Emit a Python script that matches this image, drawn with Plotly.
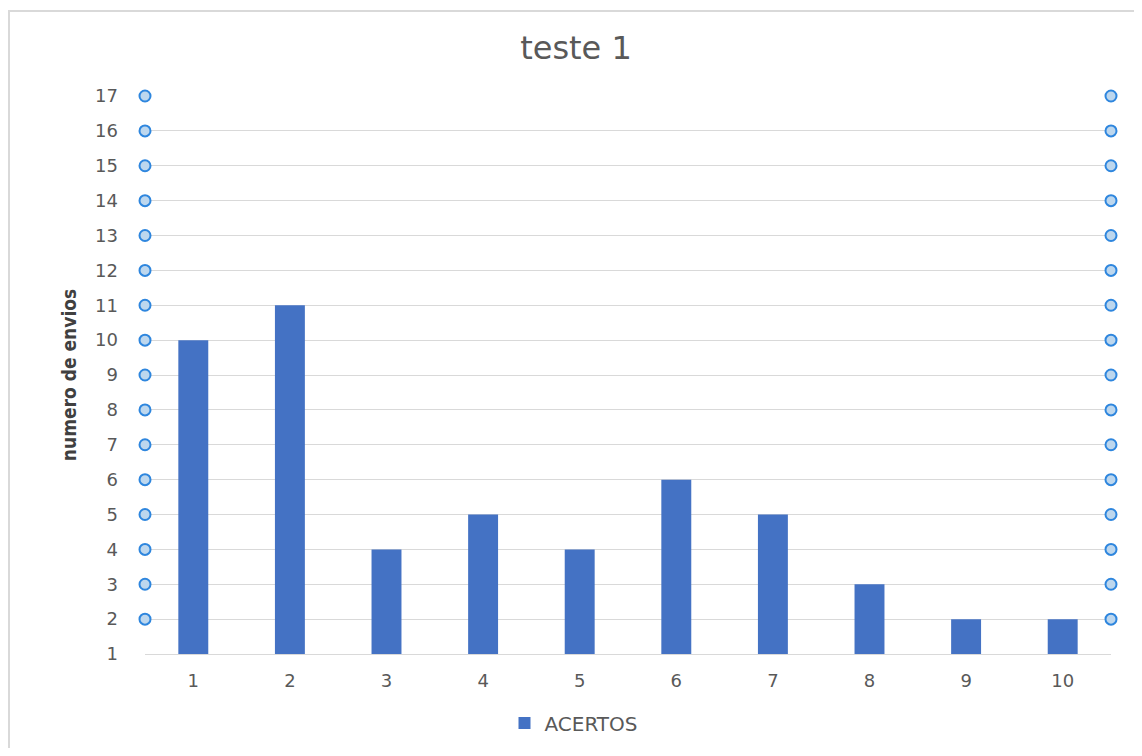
import plotly.graph_objects as go

categories = ["1", "2", "3", "4", "5", "6", "7", "8", "9", "10"]
acertos = [10, 11, 4, 5, 4, 6, 5, 3, 2, 2]
marker_levels = [2, 3, 4, 5, 6, 7, 8, 9, 10, 11, 12, 13, 14, 15, 16, 17]
y_ticks = list(range(1, 18))

# page body has an 8px margin; figure is placed at (8, 8)
W, H = 1126, 740
L, T = 137, 88
PR, PB = 1103, 646  # plot right / bottom in figure coords
R, B = W - PR, H - PB
PW, PH = PR - L, PB - T

FONT = "DejaVu Sans, Open Sans, sans-serif"
GRAY = "#595959"

fig = go.Figure()
fig.add_trace(go.Bar(
    x=categories, y=[v - 1 for v in acertos], base=1, name="ACERTOS",
    marker=dict(color="#4472c4", line=dict(width=0)),
    width=0.31,
))
for edge in (0, 1):
    fig.add_trace(go.Scatter(
        x=[edge] * len(marker_levels), y=marker_levels, xaxis="x2", mode="markers",
        marker=dict(symbol="circle", size=11, color="#bdd7ee",
                    line=dict(color="#2e86de", width=2)),
        showlegend=False, cliponaxis=False, hoverinfo="y",
    ))

fig.update_layout(
    width=W, height=H,
    margin=dict(l=L, r=R, t=T, b=B, autoexpand=False),
    paper_bgcolor="white", plot_bgcolor="white",
    title=dict(text="teste 1", x=568 / W, xanchor="center", y=1 - 40 / H, yanchor="middle",
               font=dict(family=FONT, size=32, color=GRAY)),
    xaxis=dict(type="category", showgrid=False, showline=True, linecolor="#d9d9d9", linewidth=1,
               ticks="", tickfont=dict(family=FONT, size=18, color=GRAY),
               ticklabelstandoff=10, zeroline=False, automargin=False),
    xaxis2=dict(overlaying="x", range=[0, 1], visible=False, fixedrange=True),
    yaxis=dict(range=[1, 17], tickvals=y_ticks, showgrid=True, gridcolor="#d9d9d9", gridwidth=1,
               zeroline=False, showline=False, ticks="", automargin=False,
               tickfont=dict(family=FONT, size=18, color=GRAY),
               ticklabelstandoff=26,
               title=dict(text="numero de envios", standoff=13,
                          font=dict(family="DejaVu Sans Condensed, Liberation Sans Narrow, sans-serif",
                                    size=19, color="#404040", weight="bold"))),
    showlegend=True,
    legend=dict(orientation="h", xref="container", yref="container",
                x=566 / W, xanchor="center", y=1 - 715 / H, yanchor="middle",
                font=dict(family=FONT, size=20, color=GRAY), itemwidth=30),
    bargap=0.69,
    shapes=[dict(type="rect", xref="paper", yref="paper",
                 x0=(1 - L) / PW, x1=(W + 20 - L) / PW,
                 y0=-(H + 20 - PB) / PH, y1=1 + (T - 3) / PH,
                 line=dict(color="#d9d9d9", width=2), layer="below")],
)

fig.write_html("out.html")
